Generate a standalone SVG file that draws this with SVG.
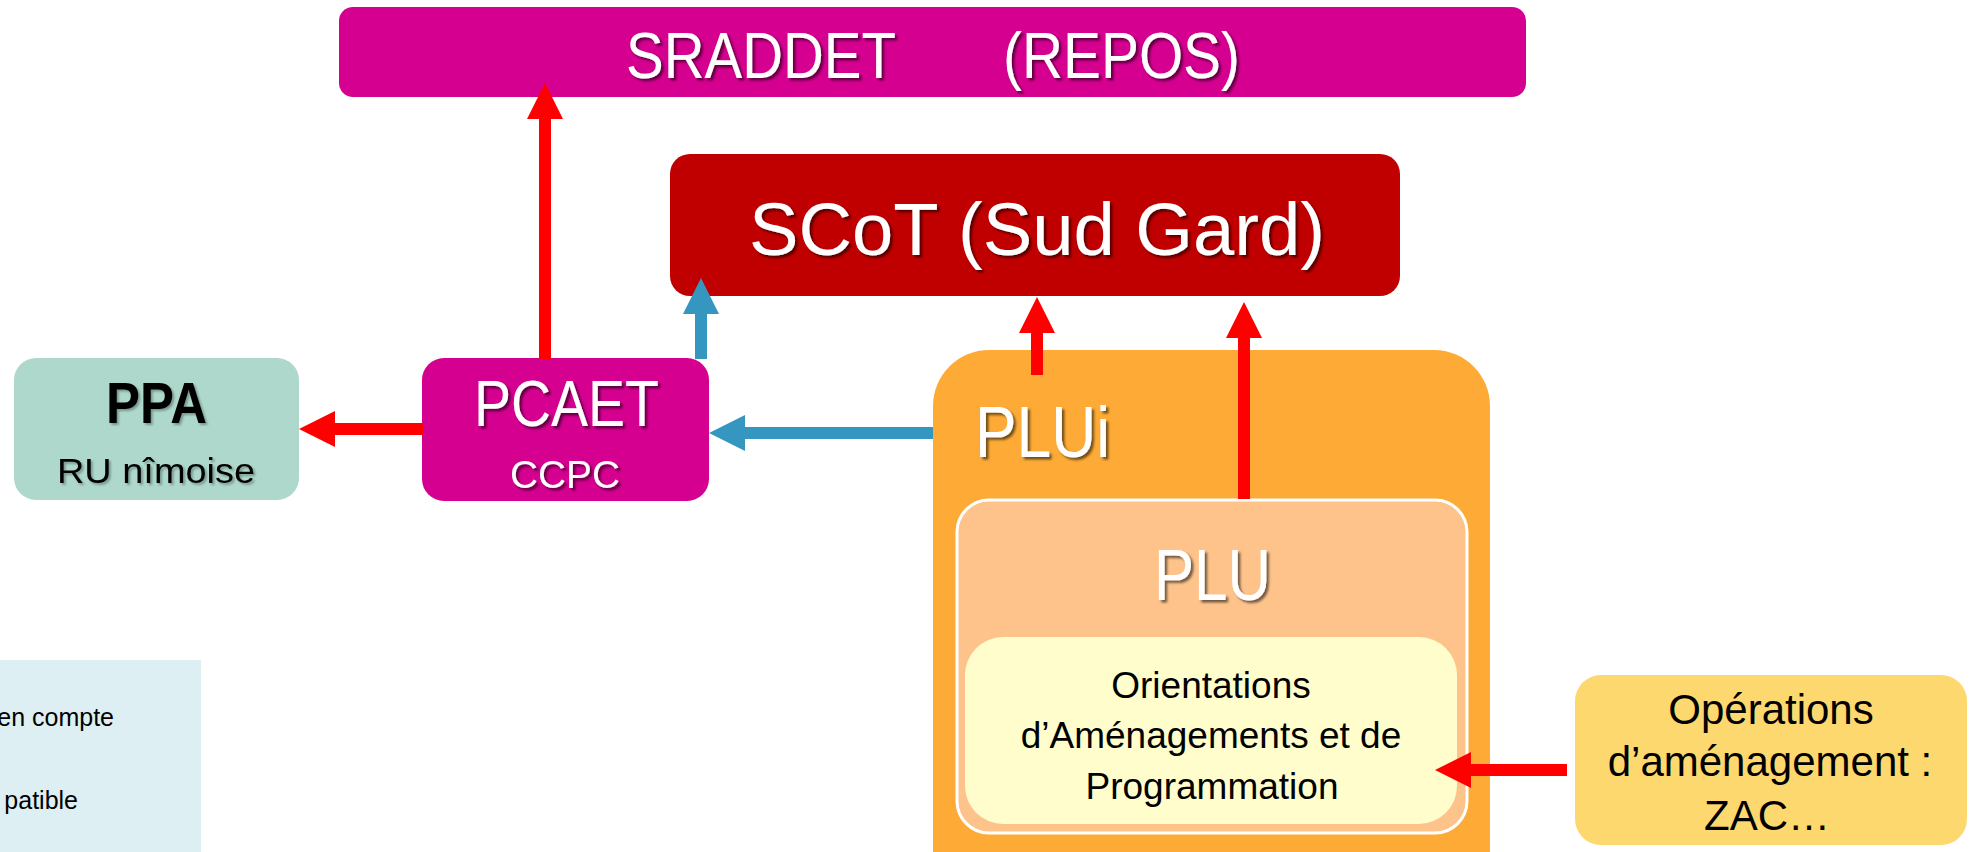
<svg xmlns="http://www.w3.org/2000/svg" width="1969" height="852" viewBox="0 0 1969 852">
<defs>
<style>
.t{font-family:"Liberation Sans",Arial,sans-serif}
.w{fill:#ffffff;filter:url(#sh)}
.k{fill:#000000}
.red{stroke:#FF0000;stroke-width:12;fill:none}
.blue{stroke:#3597C0;stroke-width:12;fill:none}
</style>
<filter id="sh" x="-10%" y="-20%" width="130%" height="150%">
<feDropShadow dx="2.5" dy="2.5" stdDeviation="1.2" flood-color="#000000" flood-opacity="0.55"/>
</filter>
<filter id="shk" x="-10%" y="-20%" width="130%" height="150%">
<feDropShadow dx="2" dy="2" stdDeviation="1" flood-color="#000000" flood-opacity="0.3"/>
</filter>
<marker id="hr" markerUnits="strokeWidth" markerWidth="3" markerHeight="3" viewBox="0 0 3 3" refX="0" refY="1.5" orient="auto">
<path d="M0,0 L3,1.5 L0,3 z" fill="#FF0000"/>
</marker>
<marker id="hb" markerUnits="strokeWidth" markerWidth="3" markerHeight="3" viewBox="0 0 3 3" refX="0" refY="1.5" orient="auto">
<path d="M0,0 L3,1.5 L0,3 z" fill="#3597C0"/>
</marker>
</defs>
<rect width="1969" height="852" fill="#ffffff"/>

<g id="legend">
<rect x="-10" y="660" width="211" height="200" fill="#DDEFF2"/>
<text class="t k" x="114" y="726" font-size="25" text-anchor="end">en compte</text>
<text class="t k" x="78" y="809" font-size="25" text-anchor="end">patible</text>
</g>

<g id="sraddet">
<rect x="339" y="7" width="1187" height="90" rx="14" fill="#D5008F"/>
<text class="t w" x="626" y="78" font-size="64" textLength="270" lengthAdjust="spacingAndGlyphs">SRADDET</text>
<text class="t w" x="1003" y="78" font-size="64" textLength="237" lengthAdjust="spacingAndGlyphs">(REPOS)</text>
</g>

<g id="scot">
<rect x="670" y="154" width="730" height="142" rx="20" fill="#C00000"/>
<text class="t w" x="749" y="255" font-size="75" textLength="576" lengthAdjust="spacingAndGlyphs">SCoT (Sud Gard)</text>
</g>

<g id="ppa">
<rect x="14" y="358" width="285" height="142" rx="22" fill="#ADD8CB"/>
<text class="t k" x="106" y="423" font-size="57" font-weight="bold" textLength="101" lengthAdjust="spacingAndGlyphs" filter="url(#shk)">PPA</text>
<text class="t k" x="57" y="483" font-size="35" textLength="198" lengthAdjust="spacingAndGlyphs" filter="url(#shk)">RU nîmoise</text>
</g>

<g id="pcaet">
<rect x="422" y="358" width="287" height="143" rx="22" fill="#D5008F"/>
<text class="t w" x="474" y="426" font-size="64" textLength="185" lengthAdjust="spacingAndGlyphs">PCAET</text>
<text class="t w" x="510" y="488" font-size="38" textLength="110" lengthAdjust="spacingAndGlyphs">CCPC</text>
</g>

<g id="plui">
<rect x="933" y="350" width="557" height="560" rx="56" fill="#FDAB36"/>
<text class="t w" x="975" y="457" font-size="72" textLength="135" lengthAdjust="spacingAndGlyphs">PLUi</text>
</g>

<g id="plu">
<rect x="957" y="500" width="510" height="333" rx="32" fill="#FEC38B" stroke="#ffffff" stroke-width="3"/>
<text class="t w" x="1154" y="600" font-size="72" textLength="117" lengthAdjust="spacingAndGlyphs">PLU</text>
</g>

<g id="oap">
<rect x="965" y="637" width="492" height="187" rx="38" fill="#FEFDCB"/>
<text class="t k" x="1211" y="698" font-size="37" text-anchor="middle">Orientations</text>
<text class="t k" x="1211" y="748" font-size="37" text-anchor="middle">d’Aménagements et de</text>
<text class="t k" x="1212" y="799" font-size="37" text-anchor="middle">Programmation</text>
</g>

<g id="operations">
<rect x="1575" y="675" width="392" height="170" rx="26" fill="#FDD86F"/>
<text class="t k" x="1771" y="724" font-size="42" text-anchor="middle">Opérations</text>
<text class="t k" x="1770" y="776" font-size="42" text-anchor="middle">d’aménagement :</text>
<text class="t k" x="1767" y="830" font-size="42" text-anchor="middle">ZAC…</text>
</g>

<g id="connectors">
<line class="red" x1="545" y1="359" x2="545" y2="119" marker-end="url(#hr)"/>
<line class="blue" x1="701" y1="359" x2="701" y2="314" marker-end="url(#hb)"/>
<line class="red" x1="423" y1="429" x2="335" y2="429" marker-end="url(#hr)"/>
<line class="blue" x1="933" y1="433" x2="745" y2="433" marker-end="url(#hb)"/>
<line class="red" x1="1037" y1="375" x2="1037" y2="333" marker-end="url(#hr)"/>
<line class="red" x1="1244" y1="499" x2="1244" y2="338" marker-end="url(#hr)"/>
<line class="red" x1="1567" y1="770" x2="1471" y2="770" marker-end="url(#hr)"/>
</g>
</svg>
